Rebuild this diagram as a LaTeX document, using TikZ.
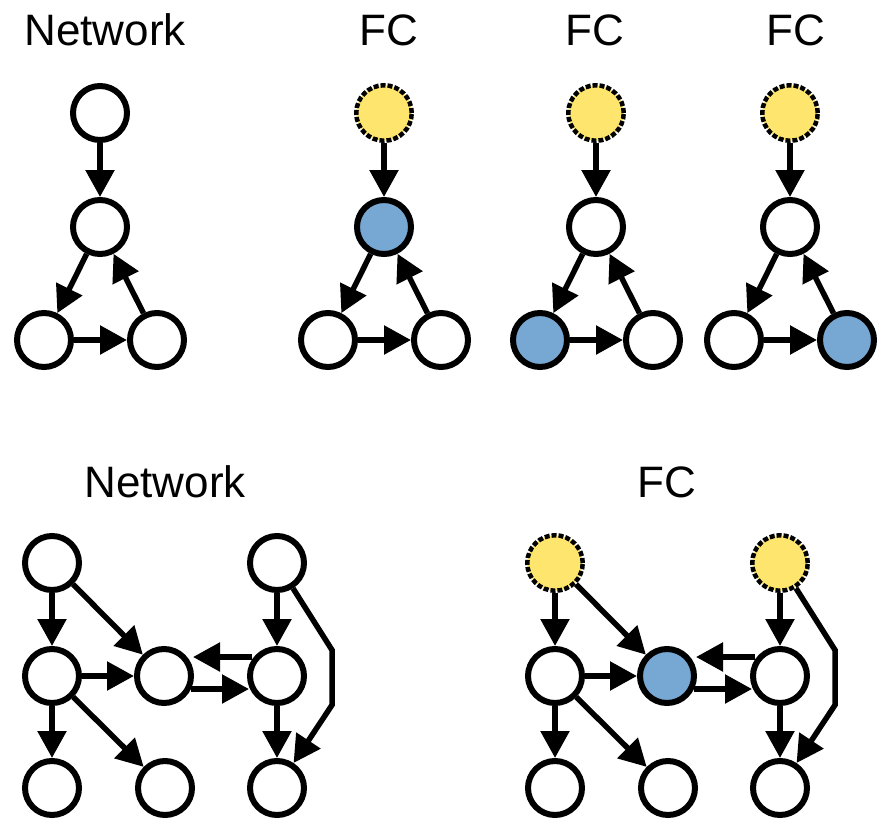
\documentclass[tikz,border=0pt]{standalone}
\usepackage{fontspec}
\setmainfont{Liberation Sans}
\usetikzlibrary{arrows.meta}
\definecolor{extfill}{HTML}{FDE56E}
\definecolor{selfill}{HTML}{76A8D3}
\tikzset{
  netnode/.style={circle, draw=black, line width=6pt, fill=white,
    minimum size=54pt, inner sep=0pt},
  extnode/.style={netnode, fill=extfill, line width=4.5pt,
    minimum size=55.5pt, dash pattern=on 5pt off 2pt},
  selnode/.style={netnode, fill=selfill},
  arr/.style={line width=5.5pt, draw=black,
    -{Triangle[length=27pt,width=28pt]}},
  paneltitle/.style={anchor=base, font=\fontsize{44pt}{50pt}\selectfont, inner sep=0pt},
}
% three-node cycle fed by one node above
\newcommand\cyclegraph[4]{%
  \node[#1] (t) at (0,113) {};
  \node[#2] (m) at (0,227) {};
  \node[#3] (l) at (-56,340) {};
  \node[#4] (r) at (57,340) {};
  \draw[arr] (t) -- (m);
  \draw[arr] (m) -- (l);
  \draw[arr] (r) -- (m);
  \draw[arr] (l) -- (r);
}
% eight-node graph with a two-way link in the middle
\newcommand\largegraph[3]{%
  \node[#1] (a) at (52,563) {};
  \node[#2] (d) at (277,563) {};
  \node[netnode] (b) at (52,676) {};
  \node[#3] (c) at (164,676) {};
  \node[netnode] (e) at (277,676) {};
  \node[netnode] (g1) at (52,788) {};
  \node[netnode] (g2) at (165,788) {};
  \node[netnode] (g3) at (277,788) {};
  \coordinate (k1) at (332,650);
  \coordinate (k2) at (332,705);
  \coordinate (eu) at ([yshift=19pt]e.center);
  \coordinate (cl) at ([yshift=-13pt]c.center);
  \draw[arr] ([xshift=-25pt]eu) -- ([xshift=29pt]eu -| c.center);
  \draw[arr] ([xshift=27pt]cl) -- ([xshift=-28pt]cl -| e.center);
  \draw[arr] (a) -- (b);
  \draw[arr] (a) -- (c);
  \draw[arr] (b) -- (c);
  \draw[arr] (b) -- (g1);
  \draw[arr] (b) -- (g2);
  \draw[arr] (d) -- (e);
  \draw[arr] (e) -- (g3);
  \draw[arr, line join=miter] (d) -- (k1) -- (k2) -- (g3);
}
\begin{document}
\begin{tikzpicture}[x=1pt, y=-1pt]
  \useasboundingbox (0,0) rectangle (886,819);
  \fill[white] (0,0) rectangle (886,819);

  \node[paneltitle] (title1) at (105,45) {Network};
  \node[paneltitle] (title2) at (389,45) {FC};
  \node[paneltitle] (title3) at (595,45) {FC};
  \node[paneltitle] (title4) at (796,45) {FC};
  \node[paneltitle] (title5) at (165,497) {Network};
  \node[paneltitle] (title6) at (667,497) {FC};

  \begin{scope}[shift={(100,0)}, name prefix=n-]
    \cyclegraph{netnode}{netnode}{netnode}{netnode}
  \end{scope}
  \begin{scope}[shift={(384,0)}, name prefix=f1-]
    \cyclegraph{extnode}{selnode}{netnode}{netnode}
  \end{scope}
  \begin{scope}[shift={(596,0)}, name prefix=f2-]
    \cyclegraph{extnode}{netnode}{selnode}{netnode}
  \end{scope}
  \begin{scope}[shift={(790,0)}, name prefix=f3-]
    \cyclegraph{extnode}{netnode}{netnode}{selnode}
  \end{scope}

  \begin{scope}[name prefix=bn-]
    \largegraph{netnode}{netnode}{netnode}
  \end{scope}
  \begin{scope}[shift={(503,0)}, name prefix=bf-]
    \largegraph{extnode}{extnode}{selnode}
  \end{scope}
\end{tikzpicture}
\end{document}
